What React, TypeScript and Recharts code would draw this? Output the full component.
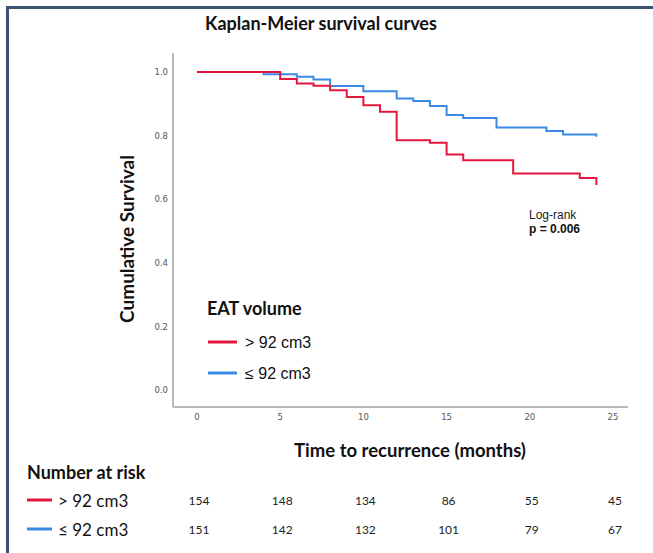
import { LineChart, Line, XAxis, YAxis } from 'recharts';

// Survival estimates per group, stepped at each event time (months)
const highTimes = [0, 5, 6, 7, 8, 9, 10, 11, 12, 14, 15, 16, 19, 23, 24];
const highSurvival = [1.0, 0.978, 0.964, 0.957, 0.943, 0.922, 0.896, 0.875, 0.786, 0.778, 0.741, 0.723, 0.681, 0.667, 0.645];

const lowTimes = [0, 4, 6, 7, 8, 10, 12, 13, 14, 15, 16, 18, 21, 22, 24];
const lowSurvival = [1.0, 0.993, 0.985, 0.977, 0.956, 0.94, 0.917, 0.909, 0.893, 0.865, 0.856, 0.826, 0.815, 0.804, 0.797];

const xTicks = [0, 5, 10, 15, 20, 25];
const yTicks = [0, 0.2, 0.4, 0.6, 0.8, 1.0];

// Number at risk, one value per x tick (0..25)
const riskHigh = [154, 148, 134, 86, 55, 45];
const riskLow = [151, 142, 132, 101, 79, 67];

const groupLabels = ['> 92 cm3', '≤ 92 cm3'];

const RED = '#e3173e';
const BLUE = '#3b8ae6';

const highData = highTimes.map((t, i) => ({ t, s: highSurvival[i] }));
const lowData = lowTimes.map((t, i) => ({ t, s: lowSurvival[i] }));

// plot frame in page pixels
const PLOT_LEFT = 173;
const PLOT_TOP = 53;
const PLOT_RIGHT = 628;
const PLOT_BOTTOM = 407;
const X_MIN = -1.44;
const X_MAX = 25.9;
const xPx = (t: number) => PLOT_LEFT + ((t - X_MIN) / (X_MAX - X_MIN)) * (PLOT_RIGHT - PLOT_LEFT);

const sansBold = "Lato, 'Open Sans', sans-serif";
const arial = "'Liberation Sans', Arial, sans-serif";
const tickFont = { fill: '#555', fontSize: 8.5, fontFamily: "'DejaVu Sans', sans-serif" };

export default function App() {
  return (
    <div style={{ position: 'absolute', left: 0, top: 0, width: 653, height: 553, background: '#fff', overflow: 'hidden' }}>
      <div
        style={{
          position: 'absolute',
          left: 6,
          top: 6,
          width: 660,
          height: 560,
          borderLeft: '3px solid #3e5275',
          borderTop: '3px solid #3e5275',
        }}
      />
      <div style={{ position: 'absolute', left: 0, top: 0 }}>
        <LineChart
          width={653}
          height={553}
          margin={{ top: PLOT_TOP, right: 653 - PLOT_RIGHT, bottom: 553 - PLOT_BOTTOM - 30, left: PLOT_LEFT - 40 }}
        >
          <XAxis
            dataKey="t"
            type="number"
            domain={[X_MIN, X_MAX]}
            ticks={xTicks}
            allowDataOverflow
            height={30}
            tickLine={false}
            tickSize={0}
            tickMargin={7}
            stroke="#a3a3a3"
            strokeWidth={1.5}
            tick={tickFont}
          />
          <YAxis
            dataKey="s"
            type="number"
            domain={[-0.053, 1.06]}
            ticks={yTicks}
            allowDataOverflow
            width={40}
            tickLine={false}
            tickSize={0}
            tickMargin={5}
            stroke="#a3a3a3"
            strokeWidth={1.5}
            tickFormatter={(v: number) => v.toFixed(1)}
            tick={tickFont}
          />
          <Line data={lowData} dataKey="s" type="stepAfter" stroke={BLUE} strokeWidth={2} dot={false} isAnimationActive={false} />
          <Line data={highData} dataKey="s" type="stepAfter" stroke={RED} strokeWidth={2} dot={false} isAnimationActive={false} />
        </LineChart>
      </div>
      <svg width={653} height={553} style={{ position: 'absolute', left: 0, top: 0, pointerEvents: 'none' }}>
        <text x={321} y={23} textAnchor="middle" dominantBaseline="central" fontFamily={sansBold} fontWeight={700} fontSize={18} fill="#111">
          Kaplan-Meier survival curves
        </text>
        <text
          x={126}
          y={239}
          textAnchor="middle"
          dominantBaseline="central"
          fontFamily={sansBold}
          fontWeight={700}
          fontSize={19}
          fill="#111"
          transform="rotate(-90 126 239)"
        >
          Cumulative Survival
        </text>
        <text x={410} y={450} textAnchor="middle" dominantBaseline="central" fontFamily={sansBold} fontWeight={700} fontSize={18.5} fill="#111">
          Time to recurrence (months)
        </text>

        <text x={529} y={215} dominantBaseline="central" fontFamily={arial} fontSize={12} fill="#222">
          Log-rank
        </text>
        <text x={529} y={229} dominantBaseline="central" fontFamily={arial} fontWeight={700} fontSize={12} fill="#111">
          p = 0.006
        </text>

        {/* in-plot legend */}
        <text x={207} y={308} dominantBaseline="central" fontFamily={sansBold} fontWeight={700} fontSize={18} fill="#111">
          EAT volume
        </text>
        {[RED, BLUE].map((c, i) => (
          <g key={c}>
            <line x1={208} x2={237} y1={342 + i * 31} y2={342 + i * 31} stroke={c} strokeWidth={3} />
            <text x={245} y={342 + i * 31} dominantBaseline="central" fontFamily={arial} fontSize={16} fill="#111">
              {groupLabels[i]}
            </text>
          </g>
        ))}

        {/* number at risk table */}
        <text x={27} y={472} dominantBaseline="central" fontFamily={sansBold} fontWeight={700} fontSize={18} fill="#111">
          Number at risk
        </text>
        {[riskHigh, riskLow].map((row, r) => (
          <g key={r}>
            <line x1={27} x2={52} y1={500 + r * 29} y2={500 + r * 29} stroke={r === 0 ? RED : BLUE} strokeWidth={3} />
            <text x={58} y={500 + r * 29} dominantBaseline="central" fontFamily={sansBold} fontSize={17} fill="#111">
              {groupLabels[r]}
            </text>
            {row.map((n, k) => (
              <text
                key={k}
                x={xPx(xTicks[k]) + 2}
                y={500 + r * 29}
                textAnchor="middle"
                dominantBaseline="central"
                fontFamily="'Liberation Sans Narrow', Lato, sans-serif"
                fontSize={12}
                fill="#222"
              >
                {n}
              </text>
            ))}
          </g>
        ))}
      </svg>
    </div>
  );
}
